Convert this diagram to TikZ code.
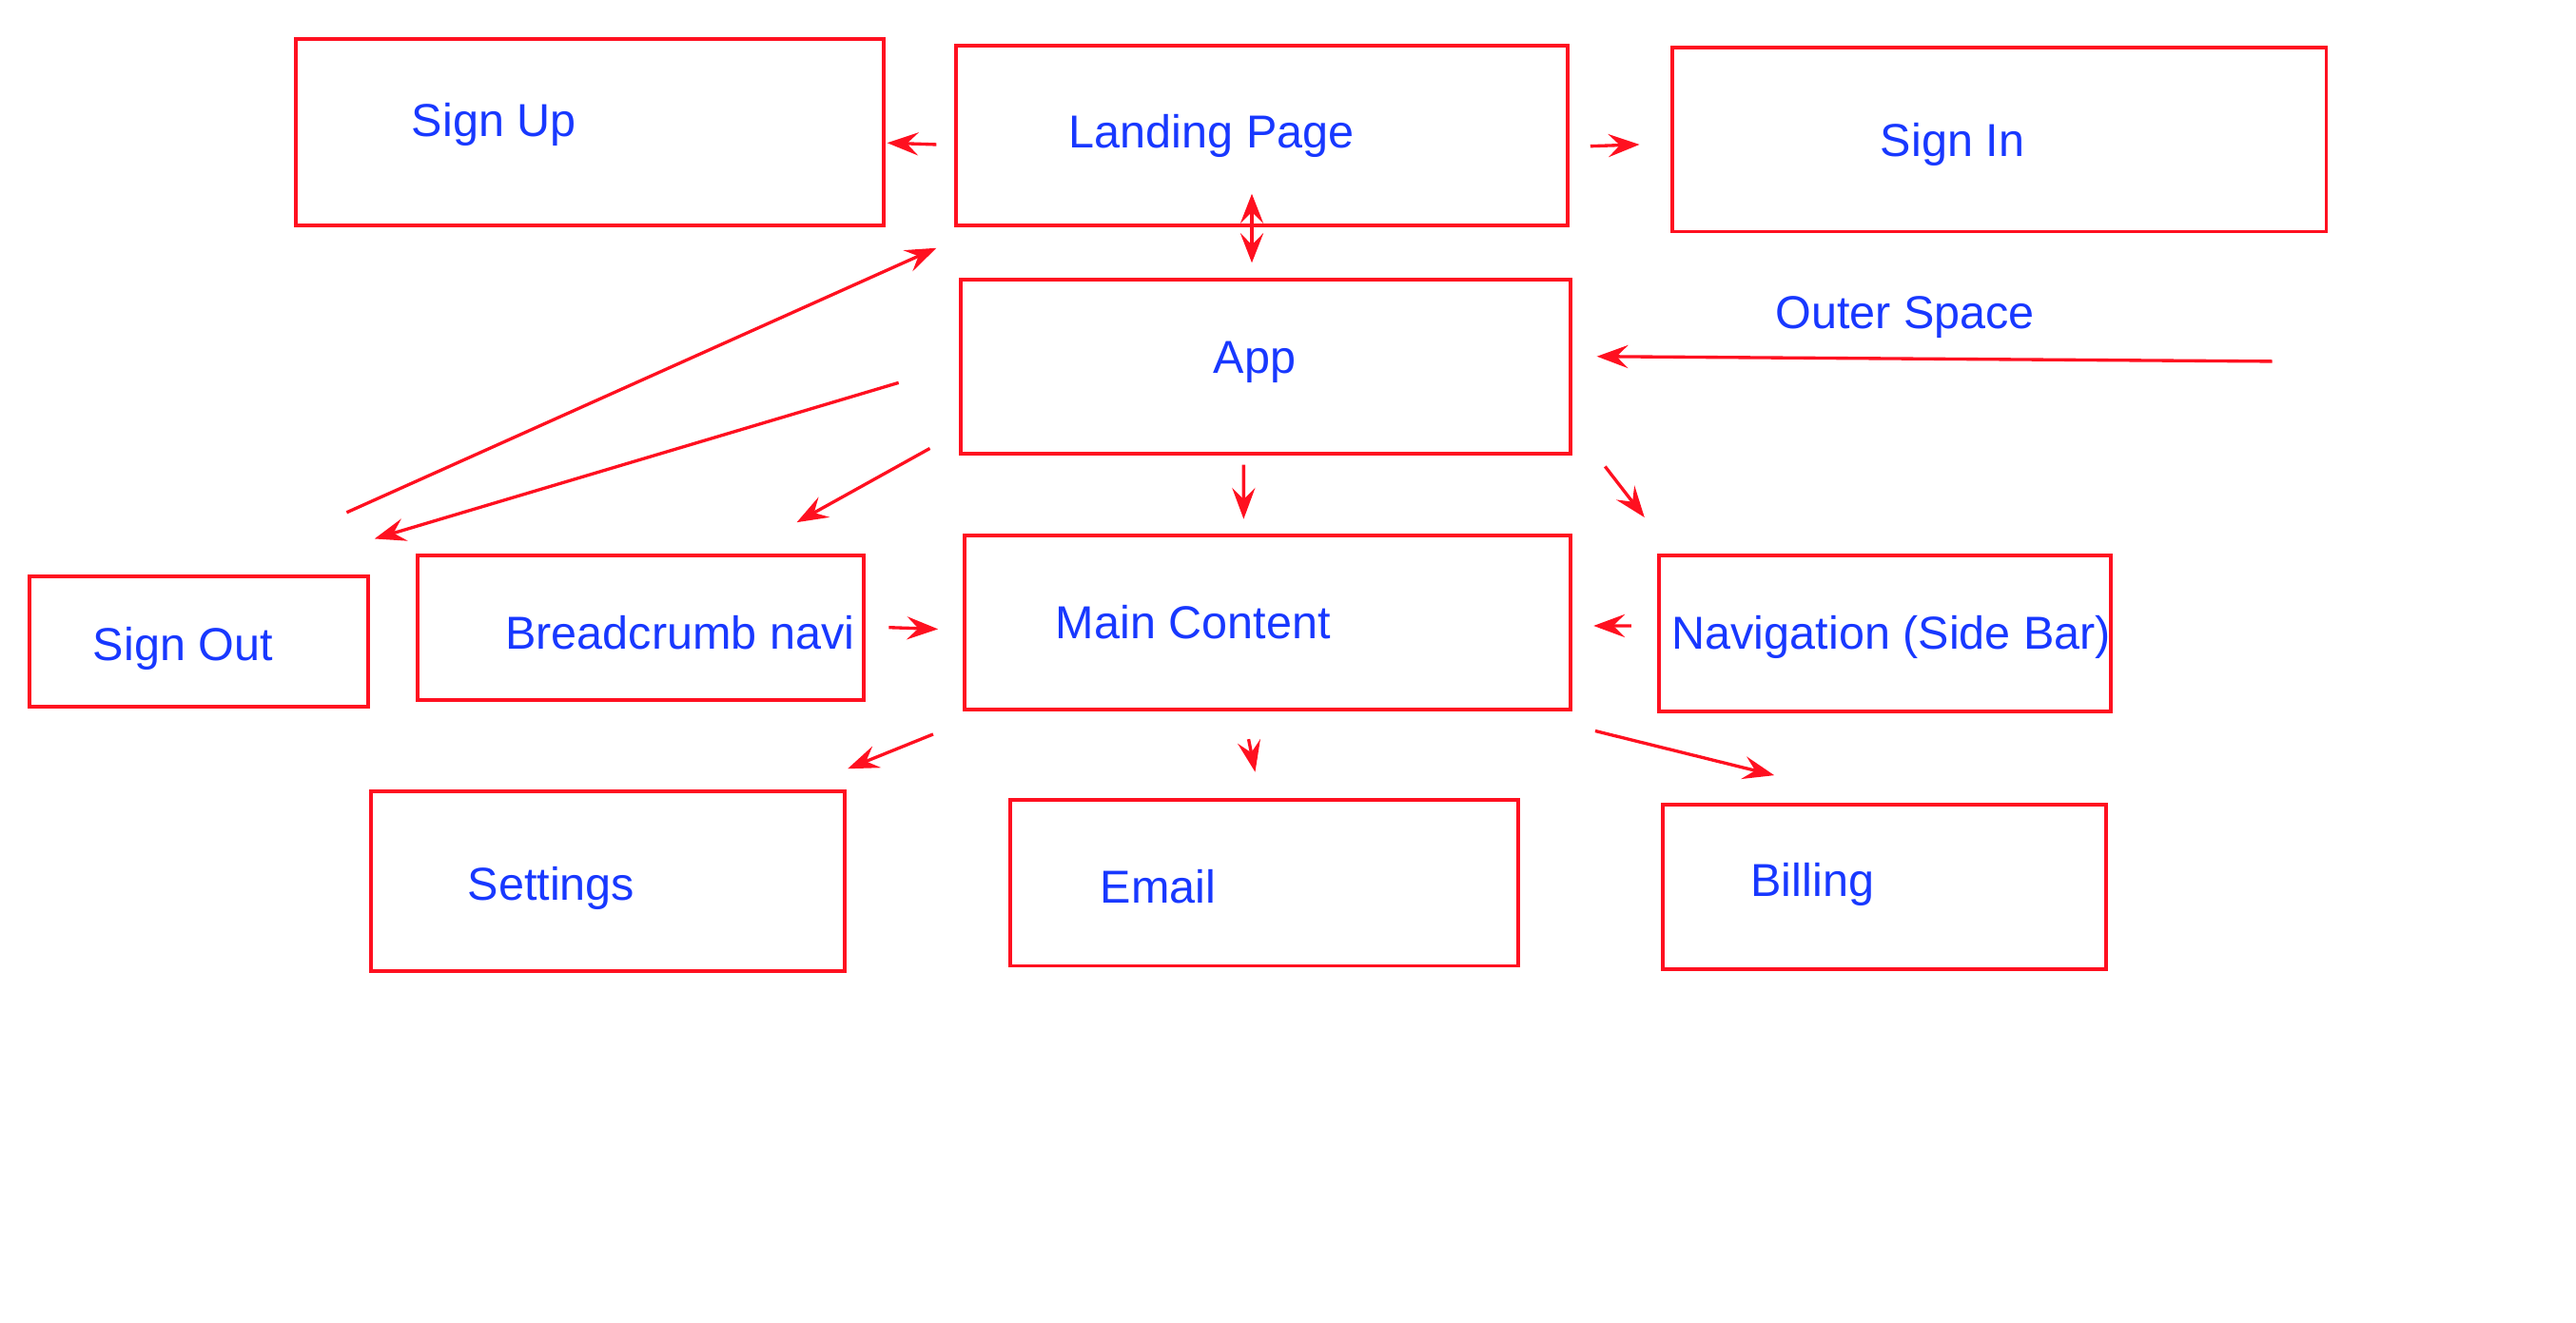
\documentclass[tikz,border=0pt]{standalone}
\usepackage{fontspec}
\setmainfont{Liberation Sans}
\usepackage{tikz}
\usetikzlibrary{arrows.meta,positioning}
\definecolor{boxred}{RGB}{255,16,32}
\definecolor{txtblue}{RGB}{24,56,255}

\begin{document}
\begin{tikzpicture}[x=0.1mm,y=0.1mm]
                \tikzstyle{box} = [rectangle, draw=boxred, line width=0.65pt, inner sep=0pt, outer sep=0pt]
                \tikzstyle{txt} = [text=txtblue, inner sep=0pt, anchor=base west, font=\fontsize{8}{9.6}\selectfont]
                \tikzstyle{arrow} = [draw=boxred, line width=0.55pt, -{Stealth[length=1.9mm,width=1.4mm,inset=0.7mm]}]
                \useasboundingbox (0,0) rectangle (1568,805);

                % boxes
                \node (signup) [box, minimum width=3.58cm, minimum height=1.13cm] at (359,724.5) {};
                \node (landing) [box, minimum width=3.72cm, minimum height=1.09cm] at (768,722.5) {};
                \node (signin) [box, minimum width=3.98cm, minimum height=1.12cm] at (1217,720) {};
                \node (app) [box, minimum width=3.71cm, minimum height=1.06cm] at (770.5,582) {};
                \node (main) [box, minimum width=3.69cm, minimum height=1.06cm] at (771.5,426) {};
                \node (nav) [box, minimum width=2.75cm, minimum height=0.95cm] at (1147.5,419.5) {};
                \node (crumb) [box, minimum width=2.72cm, minimum height=0.88cm] at (390,423) {};
                \node (signout) [box, minimum width=2.06cm, minimum height=0.79cm] at (121,414.5) {};
                \node (settings) [box, minimum width=2.88cm, minimum height=1.09cm] at (370,268.5) {};
                \node (email) [box, minimum width=3.09cm, minimum height=1.01cm] at (769.5,267.5) {};
                \node (billing) [box, minimum width=2.70cm, minimum height=1.00cm] at (1147,265) {};

                % texts
                \node (signuptxt) [txt] at (250,722) {Sign Up};
                \node (landingtxt) [txt] at (650,715) {Landing Page};
                \node (signintxt) [txt] at (1144,710) {Sign In};
                \node (apptxt) [txt] at (738,578) {App};
                \node (outertxt) [txt] at (1080,605) {Outer Space};
                \node (maintxt) [txt] at (642,416) {Main Content};
                \node (navtxt) [txt] at (1017,410) {Navigation (Side Bar)};
                \node (crumbtxt) [txt] at (307,410) {Breadcrumb navi};
                \node (signouttxt) [txt] at (56,403) {Sign Out};
                \node (settingstxt) [txt] at (284,257) {Settings};
                \node (emailtxt) [txt] at (669,255) {Email};
                \node (billingtxt) [txt] at (1065,259) {Billing};
                \coordinate (outer) at (1383,585);

                \draw [arrow] ([xshift=-1.2mm,yshift=-0.55mm]landing.west) -- ([xshift=0.2mm,yshift=-0.65mm]signup.east);
                \draw [arrow] ([xshift=1.4mm,yshift=-0.65mm]landing.east) -- ([xshift=-2mm,yshift=-0.3mm]signin.west);
                \draw [arrow, {Stealth[length=1.8mm,width=1.4mm,inset=0.7mm]}-{Stealth[length=1.8mm,width=1.4mm,inset=0.7mm]}] ([xshift=-0.6mm,yshift=1.9mm]landing.south) -- ([xshift=-0.85mm,yshift=1mm]app.north);
                \draw [arrow] ([xshift=9mm,yshift=3.9mm]signout.north) -- ([xshift=-1.2mm,yshift=-1.4mm]landing.south west);
                \draw [arrow] ([xshift=-3.8mm,yshift=-1mm]app.west) -- ([xshift=0.4mm,yshift=2.3mm]signout.north east);
                \draw [arrow] ([xshift=-1.9mm,yshift=0.3mm]app.south west) -- ([xshift=-4.1mm,yshift=2mm]crumb.north east);
                \draw [arrow] ([xshift=-1.35mm,yshift=-0.7mm]app.south) -- ([xshift=-1.45mm,yshift=1mm]main.north);
                \draw [arrow] ([xshift=2.1mm,yshift=-0.8mm]app.south east) -- ([xshift=-0.9mm,yshift=2.3mm]nav.north west);
                \draw [arrow] (outer) -- ([xshift=1.6mm,yshift=0.6mm]app.east);
                \draw [arrow] ([xshift=1.5mm]crumb.east) -- ([xshift=-1.6mm,yshift=-0.4mm]main.west);
                \draw [arrow] ([xshift=-1.7mm,yshift=0.45mm]nav.west) -- ([xshift=1.4mm,yshift=-0.2mm]main.east);
                \draw [arrow] ([xshift=-1.9mm,yshift=-1.5mm]main.south west) -- ([xshift=0.2mm,yshift=1.4mm]settings.north east);
                \draw [arrow] ([xshift=-1.15mm,yshift=-1.8mm]main.south) -- ([xshift=-0.55mm,yshift=1.7mm]email.north);
                \draw [arrow] ([xshift=1.5mm,yshift=-1.3mm]main.south east) -- ([xshift=6.8mm,yshift=1.8mm]billing.north west);
            \end{tikzpicture}
\end{document}
